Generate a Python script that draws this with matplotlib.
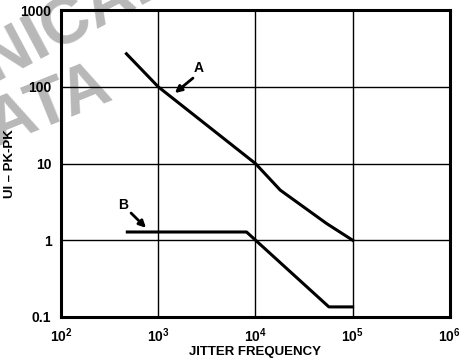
import matplotlib
matplotlib.use("Agg")
import matplotlib.pyplot as plt

# Curve A: jitter tolerance vs. jitter frequency
FREQ_A = [470, 1000, 10000, 18000, 54000, 100000]
UI_A = [270, 100, 10, 4.5, 1.65, 1.0]

# Curve B
FREQ_B = [480, 8100, 57000, 100000]
UI_B = [1.28, 1.28, 0.135, 0.135]

X_TICKS = [1e2, 1e3, 1e4, 1e5, 1e6]
X_LABELS = ["$\\mathbf{10^2}$", "$\\mathbf{10^3}$", "$\\mathbf{10^4}$",
            "$\\mathbf{10^5}$", "$\\mathbf{10^6}$"]
Y_TICKS = [0.1, 1, 10, 100, 1000]
Y_LABELS = ["0.1", "1", "10", "100", "1000"]

plt.rcParams["font.family"] = ["Liberation Sans", "DejaVu Sans"]
plt.rcParams["font.weight"] = "bold"
plt.rcParams["mathtext.fontset"] = "custom"
plt.rcParams["mathtext.bf"] = "Liberation Sans:bold"
plt.rcParams["mathtext.rm"] = "Liberation Sans:bold"

fig = plt.figure(figsize=(4.7, 3.63), dpi=100)

# faded scan watermark (mostly cut off by the page edge), kept behind the axes
fig.text(0.372, 1.033, "TECHNICAL", fontsize=48, fontweight="bold",
         color="#b8b8b8", rotation=28, ha="right", va="baseline",
         rotation_mode="anchor", zorder=-5)
fig.text(0.245, 0.733, "DATA", fontsize=48, fontweight="bold",
         color="#b8b8b8", rotation=22, ha="right", va="baseline",
         rotation_mode="anchor", zorder=-5)

ax = fig.add_axes([0.130, 0.127, 0.827, 0.845])
ax.patch.set_alpha(0)
ax.set_xscale("log")
ax.set_yscale("log")
ax.set_xlim(1e2, 1e6)
ax.set_ylim(0.1, 1000)

ax.set_xticks(X_TICKS)
ax.set_xticklabels(X_LABELS, fontsize=10)
ax.set_yticks(Y_TICKS)
ax.set_yticklabels(Y_LABELS, fontsize=10, fontweight="bold")
ax.minorticks_off()
ax.tick_params(length=0, pad=7)
ax.grid(True, color="black", linewidth=1.0)

for s in ax.spines.values():
    s.set_linewidth(2.2)

ax.plot(FREQ_A, UI_A, color="black", linewidth=2.2)
ax.plot(FREQ_B, UI_B, color="black", linewidth=2.2)

# curve labels with arrows
ax.text(2620, 175, "A", fontsize=10, fontweight="bold", ha="center", va="center")
ax.annotate("", xy=(1480, 83), xytext=(2275, 130),
            arrowprops=dict(arrowstyle="-|>", color="black", lw=2,
                            mutation_scale=10, shrinkA=0, shrinkB=0))
ax.text(434, 2.88, "B", fontsize=10, fontweight="bold", ha="center", va="center")
ax.annotate("", xy=(748, 1.45), xytext=(525, 2.26),
            arrowprops=dict(arrowstyle="-|>", color="black", lw=2,
                            mutation_scale=10, shrinkA=0, shrinkB=0))

ax.set_xlabel("JITTER FREQUENCY", fontsize=9.5, fontweight="bold")
ax.set_ylabel("UI – PK-PK", fontsize=9.5, fontweight="bold")
ax.xaxis.set_label_coords(0.5, -0.095)
ax.yaxis.set_label_coords(-0.115, 0.5)

fig.savefig("out.png", dpi=100)
